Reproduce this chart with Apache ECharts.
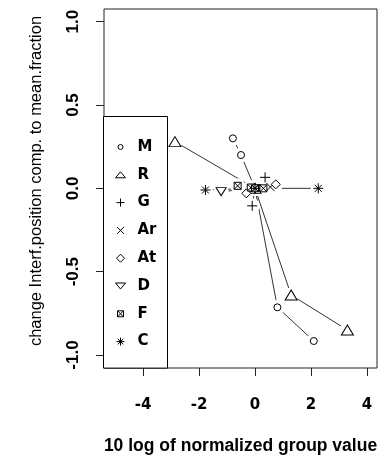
<!DOCTYPE html>
<html>
<head>
<meta charset="utf-8">
<script src="https://cdn.jsdelivr.net/npm/echarts@6/dist/echarts.min.js"></script>
<style>html,body{margin:0;padding:0;background:#fff}#c{width:379px;height:456px}</style>
</head>
<body>
<div id="c"></div>
<script>
// ---- data ----
const seriesNames = ['M', 'R', 'G', 'Ar', 'At', 'D', 'F', 'C'];
const M  = [[-0.79, 0.30], [-0.50, 0.20], [0, 0], [0.80, -0.714], [2.10, -0.916]];
const R  = [[-2.86, 0.28], [0, 0], [1.29, -0.64], [3.30, -0.85]];
const G  = [[-0.10, -0.105], [0, 0], [0.36, 0.066]];
const Ar = [[0, 0], [0.55, 0.008]];
const At = [[-0.31, -0.03], [0, 0], [0.74, 0.024]];
const D  = [[-1.21, -0.02], [0, 0]];
const F  = [[-0.62, 0.015], [-0.15, 0.005], [0, 0], [0.30, 0.0]];
const C  = [[-1.77, -0.01], [0, 0], [2.26, 0.0]];
const xTicks = [-4, -2, 0, 2, 4];
const yTicks = [-1.0, -0.5, 0.0, 0.5, 1.0];
const xTitle = '10 log of normalized group value';
const yTitle = 'change Interf.position comp. to mean.fraction';

const dataSets = [M, R, G, Ar, At, D, F, C];

// plot symbols
const plotSym = {
  M:  {symbol: 'circle', size: 7},
  R:  {symbol: 'triangle', size: [12, 10]},
  G:  {symbol: 'path://M0,5L10,5M5,0L5,10', size: 10},
  Ar: {symbol: 'path://M0,0L10,10M10,0L0,10', size: 8},
  At: {symbol: 'diamond', size: 9},
  D:  {symbol: 'path://M0,0L10,0L5,8Z', size: [10, 8]},
  F:  {symbol: 'path://M0,0L8,0L8,8L0,8ZM0,0L8,8M8,0L0,8', size: 7},
  C:  {symbol: 'path://M0,5L10,5M5,0L5,10M1.5,1.5L8.5,8.5M8.5,1.5L1.5,8.5', size: 10}
};
// legend icons (padded in a 14x14 box)
const pad = 'M0,0M14,14';
const legendIcon = {
  M:  'path://' + pad + 'M9.5,7A2.5,2.5,0,1,1,4.5,7A2.5,2.5,0,1,1,9.5,7Z',
  R:  'path://' + pad + 'M2,10L12,10L7,4Z',
  G:  'path://' + pad + 'M3,7L11,7M7,3L7,11',
  Ar: 'path://' + pad + 'M3.5,3.5L10.5,10.5M10.5,3.5L3.5,10.5',
  At: 'path://' + pad + 'M7,3L11,7L7,11L3,7Z',
  D:  'path://' + pad + 'M2,4L12,4L7,10Z',
  F:  'path://' + pad + 'M4,4L10,4L10,10L4,10ZM4,4L10,10M10,4L4,10',
  C:  'path://' + pad + 'M3,7L11,7M7,3L7,11M4.2,4.2L9.8,9.8M9.8,4.2L4.2,9.8'
};

const series = [];
seriesNames.forEach((n, i) => {
  series.push({
    name: n + '_line', type: 'line', data: dataSets[i], showSymbol: false, symbol: 'none',
    lineStyle: {color: '#333', width: 1}, z: 1, silent: true, animation: false
  });
  series.push({
    name: n + '_gap', type: 'scatter', data: dataSets[i], symbol: 'circle', symbolSize: 15,
    itemStyle: {color: '#fff', borderWidth: 0, opacity: 1}, z: 2, silent: true, animation: false
  });
});
seriesNames.forEach((n, i) => {
  series.push({
    name: n, type: 'scatter', data: dataSets[i],
    symbol: plotSym[n].symbol, symbolSize: plotSym[n].size,
    itemStyle: {color: '#fff', borderColor: '#000', borderWidth: 1, opacity: 1},
    z: 3, animation: false
  });
});

const chart = echarts.init(document.getElementById('c'), null, {renderer: 'canvas'});
chart.setOption({
  animation: false,
  backgroundColor: '#fff',
  grid: {left: 104, right: 2, top: 9, bottom: 88, containLabel: false, outerBoundsMode: 'none',
    show: true, borderColor: '#222', borderWidth: 1, backgroundColor: 'transparent'},
  xAxis: {
    type: 'value', min: -5.393, max: 4.357,
    axisLine: {show: false, onZero: false},
    splitLine: {show: false},
    axisTick: {show: true, length: 8, lineStyle: {color: '#222'}, customValues: xTicks},
    axisLabel: {customValues: xTicks, margin: 30, color: '#000', fontFamily: 'DejaVu Sans', fontWeight: 'bold', fontSize: 15,
      formatter: v => String(v)},
    name: xTitle, nameLocation: 'middle', nameGap: 69,
    nameTextStyle: {color: '#000', fontFamily: 'Liberation Sans', fontWeight: 'bold', fontSize: 17.5}
  },
  yAxis: {
    type: 'value', min: -1.078, max: 1.076,
    axisLine: {show: false, onZero: false},
    splitLine: {show: false},
    axisTick: {show: true, length: 8, lineStyle: {color: '#222'}, customValues: yTicks},
    axisLabel: {customValues: yTicks, rotate: 90, margin: 22, color: '#000', fontFamily: 'Liberation Sans', fontWeight: 'bold', fontSize: 17,
      formatter: v => v.toFixed(1)}
  },
  legend: {
    orient: 'vertical', left: 103.5, top: 116.5,
    padding: [23, 11, 19, 9.5],
    itemWidth: 14, itemHeight: 14, itemGap: 12.8,
    backgroundColor: '#fff', borderColor: '#000', borderWidth: 1, borderRadius: 0,
    itemStyle: {borderWidth: 1, borderColor: '#000', color: '#fff'},
    textStyle: {color: '#000', fontFamily: 'DejaVu Sans', fontWeight: 'bold', fontSize: 15, padding: [0, 0, 0, 5]},
    data: seriesNames.map(n => ({name: n, icon: legendIcon[n]})),
    selectedMode: false
  },
  graphic: [{
    type: 'text', x: 36, y: 181, rotation: Math.PI / 2,
    style: {text: yTitle, fill: '#000', font: '16.5px "Liberation Sans"', align: 'center', verticalAlign: 'middle'}
  }],
  series: series
});
</script>
</body>
</html>
